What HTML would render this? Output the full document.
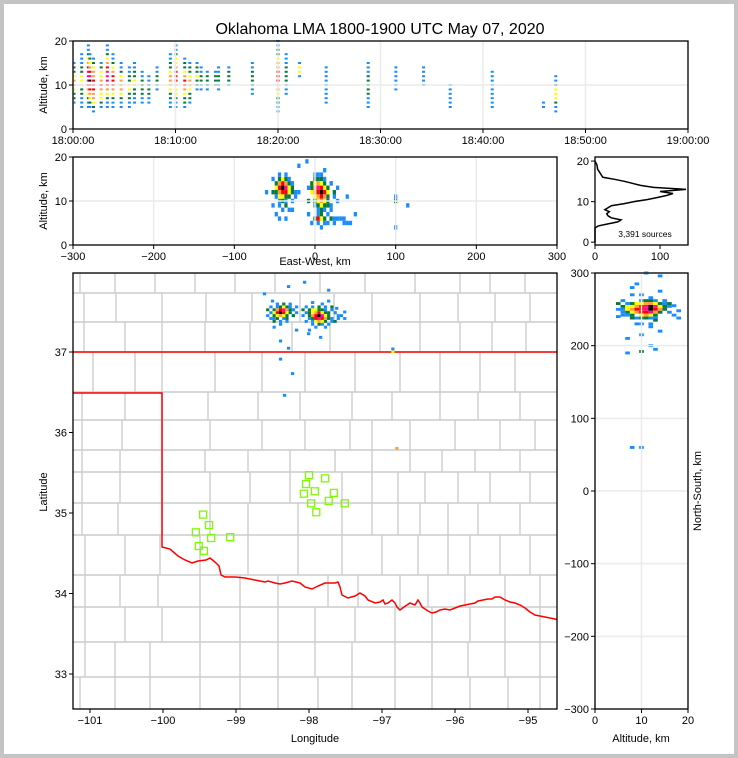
<!DOCTYPE html>
<html><head><meta charset="utf-8">
<style>
html,body{margin:0;padding:0;background:#fff}
#wrap{position:relative;width:730px;height:750px;border:4px solid #c4c4c4;background:#fff;overflow:hidden}
svg{position:absolute;left:-4px;top:-4px}
text{font-family:"Liberation Sans",sans-serif;fill:#000}
</style></head>
<body>
<div id="wrap">
<svg id="svg" width="738" height="758" viewBox="0 0 738 758">
<text x="380" y="34" font-size="16" text-anchor="middle">Oklahoma LMA 1800-1900 UTC May 07, 2020</text>
</svg>
</div>
<script>
// ---- data ----
const timeMin=[0.1,0.85,1.5,1.65,2,2.75,3.35,3.9,4.7,5.5,6,6.75,7.4,8.2,9.5,10.05,10.9,11.4,12.1,12.5,13.1,13.9,14.2,15.2,17.5,20,20.8,22.1,24.7,28.8,31.5,34.2,36.8,40.9,45.9,47.1];
const timeLo=[6,5,5,5,4,5,5,5,5,5,6,6,6,9,5,5,5,6,9,9,9,10,9,10,8,4,8,12,6,5,9,10,5,5,5,4];
const timeHi=[15,17,19,17,16,15,19,17,15,14,15,13,12,14,17,19,16,15,15,14,13,13,14,14,15,20,17,15,14,15,14,14,10,13,6,12];
const timeLvl=[4,3,6,7,6,5,6,5,4,3,3,2,2,2,4,5,5,4,3,2,2,2,2,2,2,5,2,3,1,2,1,1,1,1,1,3];
const timeTicks=["18:00:00","18:10:00","18:20:00","18:30:00","18:40:00","18:50:00","19:00:00"];

const planX=[-44,-40,-36,-32,-28,-48,-44,-40,-36,-32,-28,-24,-52,-48,-44,-40,-36,-32,-28,-20,-48,-44,-40,-36,-32,-24,-48,-44,-36,-32,
0,8,16,-4,0,4,8,12,16,24,-8,-4,0,4,8,12,16,20,28,-4,0,4,8,12,16,20,32,-4,0,4,8,12,16,20,24,0,4,8,12,16,24,0,8,12,
-60,-30,-10,20,-50,30,40,-20,-5,10,-30,-40,100,100,105,-40,-25,-35,
-56,-56,-52,-52,-48,-40,-32,-24,-24,-20,-44,-36,-28,-40,-48,
-12,-12,-8,-8,24,28,32,28,20,16,4,-4,36,40,12,0,20];
const planY=[262,262,262,262,262,258,258,258,258,258,258,258,254,254,254,254,254,254,254,254,250,250,250,250,250,250,246,246,246,246,
262,262,262,258,258,258,258,258,258,258,254,254,254,254,254,254,254,254,254,250,250,250,250,250,250,250,250,246,246,246,246,246,246,246,246,242,242,242,242,242,242,238,238,238,
280,290,296,285,270,260,255,230,225,220,205,215,200,204,67,190,170,140,
250,258,262,246,242,242,242,250,258,262,266,266,266,238,234,
250,258,262,242,262,254,246,242,238,234,234,230,250,246,266,268,270];
const planL=[1,2,3,2,1,2,4,5,6,4,2,1,1,3,5,7,5,3,2,1,2,3,4,3,2,1,1,2,1,2,
1,2,1,2,3,3,2,2,1,1,1,2,3,4,5,3,2,2,1,2,4,5,7,6,3,2,1,1,2,5,6,5,4,2,1,1,3,4,3,2,1,1,2,1,
1,1,1,1,1,1,1,1,1,1,1,1,3,1,4,1,1,1,
1,2,1,1,2,1,1,2,1,1,1,2,1,1,1,
1,2,1,1,2,1,1,2,1,1,1,1,1,1,1,1,1];

const ewX=[-44,-40,-36,-32,-48,-44,-40,-36,-32,-28,-48,-44,-40,-36,-32,-28,-48,-44,-40,-36,-32,-28,-20,-48,-44,-40,-36,-32,-24,-44,-40,-36,-28,-40,-32,-36,
0,8,0,4,8,12,-4,0,4,8,12,20,-4,0,4,8,12,16,-4,0,4,8,12,16,24,0,4,8,12,16,24,0,4,8,12,16,0,4,8,12,20,4,8,12,4,8,16,0,4,8,12,20,28,32,4,12,24,36,
100,100,100,115,-60,-20,-10,40,50,
-52,-52,-52,-44,-36,-28,-24,-44,-36,-48,-44,-28,
-8,-8,-8,20,24,28,20,24,36,40,44,12,4,16,28,-4,8,16];
const ewZ=[15,15,15,15,14,14,14,14,14,14,13,13,13,13,13,13,12,12,12,12,12,12,12,11,11,11,11,11,11,10,10,10,10,8,8,6,
16,16,15,15,15,15,14,14,14,14,14,14,13,13,13,13,13,13,12,12,12,12,12,12,12,11,11,11,11,11,11,10,10,10,10,10,9,9,9,9,9,8,8,8,7,7,7,6,6,6,6,6,6,6,5,5,5,5,
11,10,4,9,12,18,19,11,7,
15,12,9,9,9,14,12,16,16,7,6,8,
13,10,7,14,12,10,8,6,6,5,5,17,16,9,13,5,4,5];
const ewL=[2,3,2,1,2,4,5,4,2,1,3,5,7,6,3,2,2,4,5,5,3,2,1,1,3,3,2,2,1,1,2,1,1,1,1,1,
1,1,2,2,2,1,2,3,4,3,2,1,2,4,6,5,3,2,3,4,5,7,5,3,1,3,4,5,4,2,1,2,3,4,3,2,1,2,3,2,1,1,2,1,1,2,1,2,5,3,2,2,1,1,1,1,1,1,
1,2,1,1,1,1,1,1,1,
1,2,1,1,2,1,1,1,1,1,1,1,
1,2,1,1,2,1,1,1,1,1,1,1,1,2,1,1,1,1];

const nsZ=[10,11,12,13,7,8,9,10,11,12,13,14,15,6,7,8,9,10,11,12,13,14,15,16,6,7,8,9,10,11,12,13,14,15,6,7,8,9,10,11,12,13,14,7,8,10,11,12,13,9,10,11,12,13,10,12,
9,14,11,7,10,13,8,10,12,8,17,18,5,
5,5,6,6,8,15,16,16,17,18,9,12,14,10,7,12,10,14,8,13];
const nsY=[262,262,262,262,258,258,258,258,258,258,258,258,258,254,254,254,254,254,254,254,254,254,254,254,250,250,250,250,250,250,250,250,250,250,246,246,246,246,246,246,246,246,246,242,242,242,242,242,242,238,238,238,238,238,230,230,
285,296,300,190,192,195,60,60,200,270,255,248,240,
250,258,262,242,238,262,258,246,242,238,230,226,220,215,210,266,270,275,280,235];
const nsL=[1,2,2,1,1,2,3,3,4,4,3,2,1,2,3,3,4,5,6,7,6,3,2,1,1,3,4,5,5,6,7,5,4,2,1,2,3,4,5,5,6,4,2,1,2,3,4,3,2,1,2,2,1,1,1,1,
1,1,1,1,2,1,1,1,1,1,1,1,1,
1,2,1,1,2,1,2,1,1,1,1,1,1,1,1,1,1,1,1,2];

const histAlt=[0,3.5,4,4.5,5,5.5,6,6.5,7,7.5,8,8.5,9,9.5,10,10.5,11,11.5,12,12.5,13,13.5,14,15,15.5,16,17,18,19,20];
const histCnt=[0,0,5,20,35,40,25,20,18,22,15,20,25,45,60,80,95,110,120,100,140,90,70,45,30,12,8,4,3,0];

const staLon=[-99.45,-99.37,-99.55,-99.34,-99.51,-99.44,-99.08,-98.00,-98.04,-98.07,-97.92,-97.78,-97.66,-97.97,-97.90,-97.73,-97.51];
const staLat=[34.98,34.85,34.76,34.69,34.59,34.53,34.70,35.47,35.36,35.24,35.27,35.43,35.25,35.12,35.01,35.15,35.12];

// ---- helpers ----
const NS='http://www.w3.org/2000/svg';
const svg=document.getElementById('svg');
function mk(tag,attrs,parent){const e=document.createElementNS(NS,tag);for(const k in attrs)e.setAttribute(k,attrs[k]);(parent||svg).appendChild(e);return e;}
const COL=['#ffffff','#1a8cff','#0a7a3a','#ffff00','#ffa040','#ff0000','#ff1090','#000000'];
function lin(d0,d1,r0,r1){return v=>r0+(v-d0)*(r1-r0)/(d1-d0);}
function txt(x,y,s,anchor,size,name,rot){const t=mk('text',{x:x,y:y,'font-size':size||11,'text-anchor':anchor||'middle'});t.textContent=s;


if(rot)t.setAttribute('transform','rotate('+rot+' '+x+' '+y+')');return t;}
function frame(x,y,w,h,name){const r=mk('rect',{x:x,y:y,width:w,height:h,fill:'none',stroke:'#000','stroke-width':1.3});

}
function grid(x1,y1,x2,y2){mk('line',{x1:x1,y1:y1,x2:x2,y2:y2,stroke:'#ebebeb','stroke-width':1.5});}
function tickX(x,y,label,name){mk('line',{x1:x,y1:y,x2:x,y2:y+4,stroke:'#000'});txt(x,y+15,label,'middle',11,name);}
function tickY(x,y,label,name){mk('line',{x1:x,y1:y,x2:x-4,y2:y,stroke:'#000'});txt(x-6,y+4,label,'end',11,name);}

// ---- Panel 1: time-height ----
(function(){
 const L=73,R=688,T=41,B=129;
 const sx=lin(0,60,L,R), sy=lin(0,20,B,T);
 const g=mk('g',{});
 for(let i=0;i<=6;i++)grid(sx(i*10),T,sx(i*10),B);
 grid(L,sy(10),R,sy(10));
 for(let i=0;i<timeMin.length;i++){
  const mid=(timeLo[i]+timeHi[i])/2, half=(timeHi[i]-timeLo[i])/2+0.5;
  for(let z=timeLo[i];z<=timeHi[i];z+=1.0){
   let lv=Math.max(1,Math.round(timeLvl[i]*(1-Math.abs(z-mid)/half)+0.3));
   const r=mk('rect',{x:sx(timeMin[i])-1.5,y:sy(z)-1,width:3,height:2,fill:COL[lv]},g);
   
   
  }
 }
 frame(L,T,R-L,B-T,'time-height-frame');
 for(let i=0;i<=6;i++)tickX(sx(i*10),B,timeTicks[i],'time-tick-label');
 [0,10,20].forEach(v=>tickY(L,sy(v),String(v),'alt-tick-label'));
 txt(47,85,'Altitude, km','middle',11,'time-panel-y-title',-90);
})();

// ---- Panel 2: EW-altitude ----
(function(){
 const L=73,R=557,T=157,B=245;
 const sx=lin(-300,300,L,R), sy=lin(0,20,B,T);
 const g=mk('g',{});
 [-300,-200,-100,0,100,200,300].forEach(v=>grid(sx(v),T,sx(v),B));
 grid(L,sy(10),R,sy(10));
 for(let i=0;i<ewX.length;i++){
  const r=mk('rect',{x:sx(ewX[i]-2),y:sy(ewZ[i]+0.5),width:sx(4)-sx(0),height:sy(0)-sy(1),fill:COL[ewL[i]]},g);
  
  
 }
 frame(L,T,R-L,B-T,'ew-altitude-frame');
 [-300,-200,-100,0,100,200,300].forEach(v=>tickX(sx(v),B,String(v).replace('-','\u2212'),'ew-tick-label'));
 [0,10,20].forEach(v=>tickY(L,sy(v),String(v),'ew-alt-tick-label'));
 txt(315,265,'East-West, km','middle',11,'ew-x-title');
 txt(47,201,'Altitude, km','middle',11,'ew-y-title',-90);
})();

// ---- Panel 3: altitude histogram ----
(function(){
 const L=595,R=688,T=157,B=245;
 const sx=lin(0,143,L,R), sy=lin(-0.7,21,B,T);
 let d='';
 for(let i=0;i<histAlt.length;i++)d+=(i?'L':'M')+sx(histCnt[i]).toFixed(1)+' '+sy(histAlt[i]).toFixed(1);
 const p=mk('path',{d:d,fill:'none',stroke:'#000','stroke-width':1.5});
 
 
 frame(L,T,R-L,B-T,'histogram-frame');
 [0,100].forEach(v=>tickX(sx(v),B,String(v),'hist-x-tick-label'));
 [0,10,20].forEach(v=>tickY(L,sy(v),String(v),'hist-y-tick-label'));
 txt(645,237,'3,391 sources','middle',8.5,'source-count-label');
})();

// ---- Panel 4: map ----
(function(){
 const L=73,R=557,T=273,B=709;
 const sx=lin(-101,-95,90,528), sy=lin(37,33,352,674);
 const kx=v=>sx(-97.95+v/91), ky=v=>sy(35.2+v/111);
 mk('clipPath',{id:'mapclip'});
 document.getElementById('mapclip').appendChild(mk('rect',{x:L,y:T,width:R-L,height:B-T}));
 const g=mk('g',{'clip-path':'url(#mapclip)'});
 
 
 const bands=[[273,293],[293,322],[322,352],[352,392],[392,420],[420,450],[450,472],[472,503],[503,535],[535,575],[575,607],[607,642],[642,677],[677,709]];
 const vx=[[80,115,155,195,235,275,320,365,415,460,490,525],[84,116,162,206,252,300,334,372,420,458,495,530],[84,125,162,205,250,292,330,380,420,460,492,526],
 [93,135,162,215,262,305,355,400,440,480,515],[82,125,162,208,258,300,352,392,440,478,520],[82,122,162,210,262,305,350,372,410,455,500,535],
 [82,120,162,205,248,290,335,372,410,442,475,520],[82,120,162,210,250,290,342,372,398,425,458,490,530],[82,118,162,210,248,298,342,372,398,420,448,478,520],
 [85,125,160,200,248,298,342,382,418,448,470,500,530],[85,120,158,200,240,278,328,358,400,428,465,505,540],[85,125,162,200,240,278,315,355,395,432,470,505,540],
 [85,115,150,200,240,278,315,352,395,432,468,505,540],[80,115,150,200,240,278,318,352,395,432,470,508,540]];
 const cl=mk('g',{stroke:'#cccccc','stroke-width':1.4,fill:'none'},g);
 
 
 bands.forEach((b,i)=>{mk('line',{x1:L,y1:b[0],x2:R,y2:b[0]},cl);vx[i].forEach(x=>mk('line',{x1:x,y1:b[0],x2:x,y2:b[1]},cl));});
 const rr=[[162,547],[170,549],[178,556],[185,560],[192,563],[198,561],[206,560],[210,558],[215,562],[219,566],[221,575],[225,577],[235,577],[245,578],[255,580],[265,582],[268,581],[275,583],[280,584],[285,583],[292,581],[300,583],[305,587],[312,589],[318,586],[325,583],[335,583],[338,582],[340,587],[342,595],[348,598],[355,596],[360,593],[365,596],[368,600],[375,603],[380,602],[383,600],[385,604],[388,603],[392,600],[395,603],[397,607],[400,610],[404,607],[410,603],[415,605],[418,600],[420,603],[422,607],[428,611],[432,613],[436,612],[440,610],[445,609],[450,610],[455,608],[460,606],[465,605],[470,604],[475,603],[478,601],[483,600],[488,599],[492,599],[495,597],[500,597],[505,600],[510,602],[515,603],[520,605],[525,608],[530,612],[535,615],[540,616],[545,617],[550,618],[555,619],[558,620]];
 let d='M'+L+' 352L'+R+' 352 M'+L+' 393L162 393L162 547';
 rr.forEach(p=>d+='L'+p[0]+' '+p[1]);
 const sb=mk('path',{d:d,fill:'none',stroke:'#ff0000','stroke-width':1.5},g);
 
 
 const cw=kx(4)-kx(0), ch=ky(0)-ky(4);
 for(let i=0;i<planX.length;i++){
  const r=mk('rect',{x:kx(planX[i]-2),y:ky(planY[i]+2),width:cw,height:ch,fill:COL[planL[i]]},g);
  
  
 }
 for(let i=0;i<staLon.length;i++){
  const r=mk('rect',{x:sx(staLon[i])-3.5,y:sy(staLat[i])-3.5,width:7,height:7,fill:'none',stroke:'#7cfc00','stroke-width':1.3},g);
  
  
 }
 frame(L,T,R-L,B-T,'map-frame');
 [-101,-100,-99,-98,-97,-96,-95].forEach(v=>tickX(sx(v),B,String(v).replace('-','\u2212'),'longitude-tick-label'));
 [33,34,35,36,37].forEach(v=>tickY(L,sy(v),String(v),'latitude-tick-label'));
 txt(315,742,'Longitude','middle',11,'longitude-title');
 txt(47,492,'Latitude','middle',11,'latitude-title',-90);
})();

// ---- Panel 5: NS-altitude ----
(function(){
 const L=595,R=688,T=273,B=709;
 const sx=lin(0,20,L,R), sy=lin(-300,300,B,T);
 const g=mk('g',{});
 [0,10,20].forEach(v=>grid(sx(v),T,sx(v),B));
 [-300,-200,-100,0,100,200,300].forEach(v=>grid(L,sy(v),R,sy(v)));
 for(let i=0;i<nsZ.length;i++){
  const r=mk('rect',{x:sx(nsZ[i]-0.5),y:sy(nsY[i]+2),width:sx(1)-sx(0),height:sy(0)-sy(4),fill:COL[nsL[i]]},g);
  
  
 }
 frame(L,T,R-L,B-T,'ns-altitude-frame');
 [0,10,20].forEach(v=>tickX(sx(v),B,String(v),'ns-alt-tick-label'));
 [-300,-200,-100,0,100,200,300].forEach(v=>tickY(L,sy(v),String(v).replace('-','\u2212'),'ns-tick-label'));
 txt(641,742,'Altitude, km','middle',11,'ns-x-title');
 txt(701,491,'North-South, km','middle',11,'ns-y-title',-90);
})();
</script>
</body></html>
